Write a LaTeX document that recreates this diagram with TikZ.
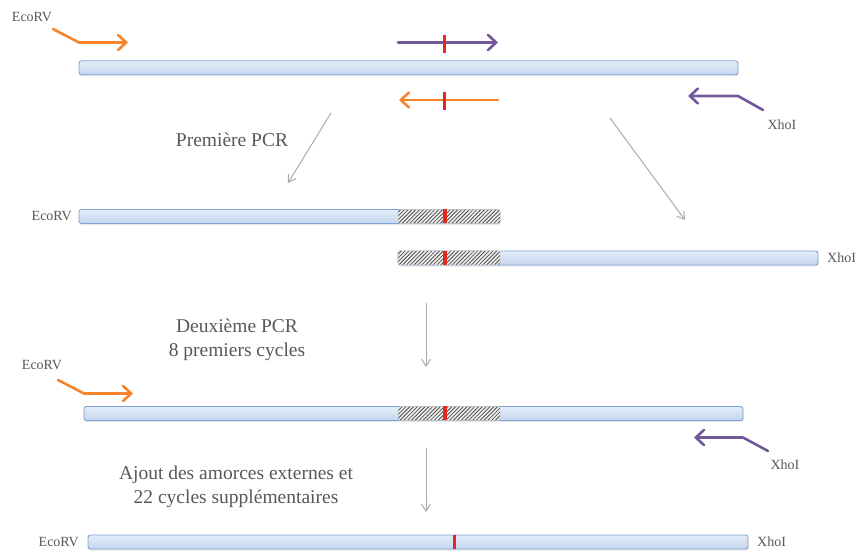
\documentclass[tikz,border=0pt]{standalone}
\usepackage{fontspec}
\setmainfont{Liberation Serif}
\usetikzlibrary{positioning,arrows.meta,patterns.meta,shadows}

\definecolor{bartop}{RGB}{228,237,249}
\definecolor{barbot}{RGB}{196,214,239}
\definecolor{barline}{RGB}{128,163,214}
\definecolor{primerO}{RGB}{247,131,44}
\definecolor{primerV}{RGB}{114,88,152}
\definecolor{mutred}{RGB}{232,38,30}
\definecolor{labgray}{RGB}{88,88,88}
\definecolor{stepgray}{RGB}{170,170,170}

\tikzset{
  bar/.style={draw=barline, line width=0.9pt, rounded corners=2.5pt,
    top color=bartop, bottom color=barbot, minimum height=14pt,
    inner sep=0pt, outer sep=0pt,
    drop shadow={opacity=0.18, shadow xshift=0.6pt, shadow yshift=-1.6pt}},
  hatch/.style={draw=gray!45, line width=0.5pt, rounded corners=1.5pt,
    preaction={fill=gray!12},
    pattern={Lines[angle=45, distance=2.7pt, line width=0.8pt]},
    pattern color=black!70, minimum height=14pt, minimum width=102pt,
    inner sep=0pt, outer sep=0pt},
  mut/.style={fill=mutred, minimum width=4pt, minimum height=14pt,
    inner sep=0pt, outer sep=0pt},
  tick/.style={fill=mutred, minimum width=2.4pt, minimum height=18pt,
    inner sep=0pt, outer sep=0pt},
  primer/.style={draw=#1, line width=2.6pt, line cap=round, line join=round,
    -{Straight Barb[length=8pt, width=15pt, line cap=round]}},
  steparrow/.style={draw=stepgray, line width=1pt,
    -{Straight Barb[length=7pt, width=9pt]}},
  site/.style={text=labgray, font=\fontsize{14}{16}\selectfont, inner sep=0pt},
  stage/.style={text=labgray, font=\fontsize{19.5}{24}\selectfont,
    align=center, inner sep=0pt},
}

\begin{document}
\begin{tikzpicture}[x=1pt, y=-1pt]
  \useasboundingbox (0,0) rectangle (863,553);

  % matrice de depart
  \node[bar, minimum width=659pt] (bar1) at (408.5,67.8) {};
  \node[site] (eco1) at (32,17) {EcoRV};
  \node[site] (xho1) at (782,125) {XhoI};
  \coordinate (o1a) at (53,29);
  \coordinate (o1b) at (79,42.5);
  \coordinate (o1c) at (128,42.5);
  \draw[primer=primerO] (o1a) -- (o1b) -- (o1c);
  \coordinate (v1a) at (763,110);
  \coordinate (v1b) at (738,96);
  \coordinate (v1c) at (688,96);
  \draw[primer=primerV] (v1a) -- (v1b) -- (v1c);
  % amorces mutees
  \coordinate (mvA) at (398,42.5);
  \coordinate (mvB) at (498,42.5);
  \draw[primer=primerV] (mvA) -- (mvB);
  \node[tick] (t1) at (444.5,44) {};
  \coordinate (moA) at (498,100);
  \coordinate (moB) at (399,100);
  \draw[primer=primerO] (moA) -- (moB);
  \node[tick] (t2) at (444.5,101) {};

  % premiere PCR
  \node[stage] (pcr1) at (232,140) {Première PCR};
  \coordinate (s1a) at (331,113);
  \coordinate (s1b) at (288,183);
  \draw[steparrow] (s1a) -- (s1b);
  \coordinate (s2a) at (610,118);
  \coordinate (s2b) at (685,220);
  \draw[steparrow] (s2a) -- (s2b);

  \node[bar, minimum width=421pt] (bar2) at (289.5,216.5) {};
  \node[hatch] (h2) at (449,216.5) {};
  \node[mut] (m2) at (444.5,216.5) {};
  \node[site, left=7pt of bar2] (eco2) {EcoRV};

  \node[bar, minimum width=420pt] (bar3) at (608,258) {};
  \node[hatch] (h3) at (449,258) {};
  \node[mut] (m3) at (444.5,258) {};
  \node[site, right=9pt of bar3] (xho3) {XhoI};

  % deuxieme PCR
  \coordinate (s3a) at (426,303);
  \coordinate (s3b) at (426,367);
  \draw[steparrow] (s3a) -- (s3b);
  \node[stage] (pcr2) at (237,340) {Deuxième PCR\\8 premiers cycles};

  \node[bar, minimum width=659pt] (bar4) at (413.5,413.5) {};
  \node[hatch] (h4) at (449,413.5) {};
  \node[mut] (m4) at (444.5,413.5) {};
  \node[site] (eco4) at (42,365) {EcoRV};
  \coordinate (o4a) at (58,380);
  \coordinate (o4b) at (84,393.5);
  \coordinate (o4c) at (133,393.5);
  \draw[primer=primerO] (o4a) -- (o4b) -- (o4c);
  \node[site] (xho4) at (785,465) {XhoI};
  \coordinate (v4a) at (768,451);
  \coordinate (v4b) at (743,437.5);
  \coordinate (v4c) at (694,437.5);
  \draw[primer=primerV] (v4a) -- (v4b) -- (v4c);

  % amorces externes
  \coordinate (s4a) at (426,448);
  \coordinate (s4b) at (426,512);
  \draw[steparrow] (s4a) -- (s4b);
  \node[stage] (pcr3) at (236,487) {Ajout des amorces externes et\\22 cycles supplémentaires};

  \node[bar, minimum width=660pt] (bar5) at (418,542) {};
  \node[mut, minimum width=3.5pt] (m5) at (454.5,542) {};
  \node[site, left=9pt of bar5] (eco5) {EcoRV};
  \node[site, right=9pt of bar5] (xho5) {XhoI};
\end{tikzpicture}
\end{document}
